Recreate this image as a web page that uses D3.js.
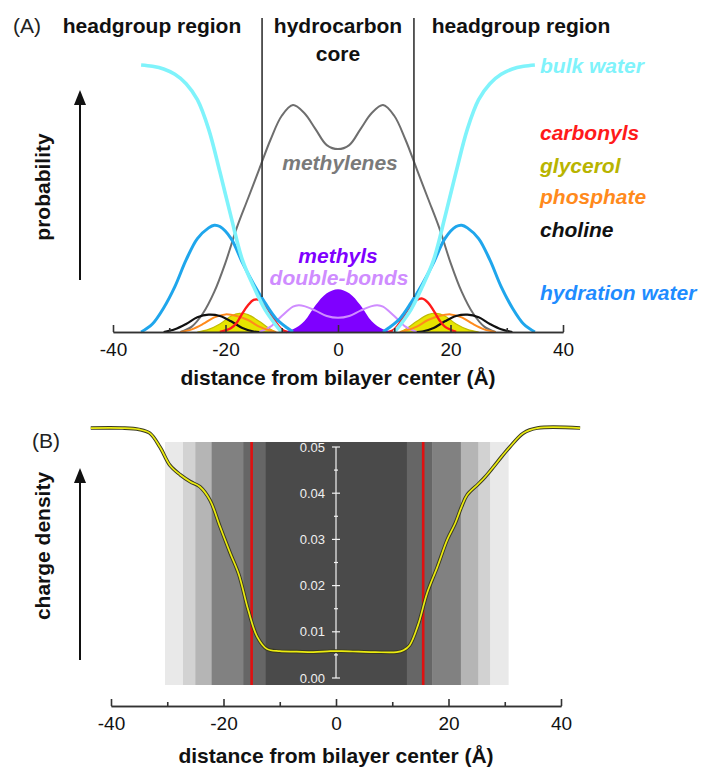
<!DOCTYPE html>
<html><head><meta charset="utf-8">
<script src="https://cdn.jsdelivr.net/npm/d3@7"></script>
<style>
body{margin:0;background:#fff}
svg{display:block;font-family:"Liberation Sans",Arial,Helvetica,sans-serif}
</style>
</head><body><svg id="c" width="707" height="767"></svg>
<script>
// ---------- DATA (panel A: probability, arbitrary units) ----------
const xMajorTicks = [-40, -20, 0, 20, 40];
const xMinorTicks = [-30, -10, 10, 30];
const regionBounds = [-13.5, 13.5];

const bulkWater = [[-35,1.00],[-33,0.995],[-31,0.985],[-29,0.965],[-27,0.93],[-25,0.87],[-23,0.76],[-21,0.60],[-19,0.43],[-17,0.27],[-15,0.17],[-13,0.085],[-11,0.025],[-10,0],
  null,[10,0],[11,0.025],[13,0.085],[15,0.17],[17,0.27],[19,0.43],[21,0.60],[23,0.76],[25,0.87],[27,0.93],[29,0.965],[31,0.985],[33,0.995],[35,1.00]];
const hydrationWater = [[-35,0],[-33,0.03],[-31,0.09],[-29,0.17],[-27,0.27],[-25,0.35],[-23,0.39],[-22,0.40],[-21,0.395],[-19,0.35],[-17,0.26],[-15,0.18],[-13,0.11],[-11,0.05],[-9,0.015],[-8,0],
  null,[8,0],[9,0.015],[11,0.05],[13,0.11],[15,0.18],[17,0.26],[19,0.35],[21,0.395],[22,0.40],[23,0.39],[25,0.35],[27,0.27],[29,0.17],[31,0.09],[33,0.03],[35,0]];
const methylenes = [[-28,0],[-26,0.02],[-24,0.07],[-22,0.15],[-20,0.26],[-18,0.39],[-16,0.50],[-14,0.61],[-12,0.72],[-10,0.81],[-8,0.85],[-6,0.82],[-4,0.76],[-2,0.70],[0,0.685],
  [2,0.70],[4,0.76],[6,0.82],[8,0.85],[10,0.81],[12,0.72],[14,0.61],[16,0.50],[18,0.39],[20,0.26],[22,0.15],[24,0.07],[26,0.02],[28,0]];
const carbonyls = [[-21,0],[-19,0.015],[-18,0.035],[-17,0.07],[-16,0.10],[-15,0.12],[-14,0.12],[-13,0.10],[-12,0.07],[-11,0.035],[-10,0.01],[-9,0],
  null,[9,0],[10,0.01],[11,0.035],[12,0.07],[13,0.10],[14,0.12],[15,0.125],[16,0.11],[17,0.08],[18,0.045],[19,0.02],[21,0]];
const glycerol = [[-25,0],[-23,0.01],[-21,0.03],[-19,0.06],[-17.5,0.07],[-16,0.065],[-14,0.04],[-12,0.01],[-11,0],
  null,[11,0],[12,0.01],[14,0.04],[16,0.065],[17.5,0.07],[19,0.06],[21,0.03],[23,0.01],[25,0]];
const phosphate = [[-28,0],[-26,0.01],[-24,0.03],[-22,0.055],[-20,0.066],[-18,0.06],[-16,0.045],[-14,0.02],[-12,0.005],[-11,0],
  null,[11,0],[12,0.005],[14,0.02],[16,0.045],[18,0.06],[20,0.066],[22,0.055],[24,0.03],[26,0.01],[28,0]];
const choline = [[-31,0],[-29,0.01],[-27,0.03],[-25,0.055],[-23,0.065],[-21,0.06],[-19,0.04],[-17,0.015],[-15,0.002],[-14,0],
  null,[14,0],[15,0.002],[17,0.015],[19,0.04],[21,0.06],[23,0.065],[25,0.055],[27,0.03],[29,0.01],[31,0]];
const methyls = [[-10,0],[-8,0.01],[-6,0.04],[-4,0.10],[-2,0.145],[0,0.16],[2,0.145],[4,0.10],[6,0.04],[8,0.01],[10,0]];
const doubleBonds = [[-14,0],[-12,0.02],[-10,0.06],[-8,0.095],[-7,0.10],[-6,0.097],[-4,0.08],[-2,0.06],[0,0.053],[2,0.06],[4,0.08],[6,0.097],[7,0.10],[8,0.095],[10,0.06],[12,0.02],[14,0]];

// ---------- DATA (panel B: charge density) ----------
const chargeDensity = [[-43.6,0.0541],[-38,0.0541],[-35,0.0538],[-33.1,0.053],[-31.3,0.050],[-29.5,0.046],[-27.7,0.044],[-25.9,0.0425],[-24.2,0.0414],[-22.4,0.0385],[-20.6,0.0327],[-18.8,0.027],[-17.3,0.0225],[-15.6,0.0147],[-14,0.0089],[-12.3,0.0063],[-10,0.0058],[-7,0.0057],[-4,0.0056],[-1,0.0058],
  [1,0.0058],[4,0.0057],[7,0.0056],[10.8,0.0056],[12,0.006],[13.1,0.0071],[14.6,0.0115],[16.2,0.0184],[18,0.024],[19.8,0.030],[21.2,0.0335],[22.3,0.037],[23.3,0.0396],[25.3,0.042],[26.5,0.0435],[28,0.0457],[29.5,0.048],[30.9,0.050],[33.3,0.053],[35.8,0.0541],[43.4,0.0541]];
const bandBounds = [-30.4,-27.2,-25.0,-22.1,-16.5,-12.5,12.6,17.1,22.2,25.3,27.4,30.6];
const redLines = [-15.0, 15.5];
const chargeMajorTicks = [0, 0.01, 0.02, 0.03, 0.04, 0.05];
const chargeMinorTicks = [0.005, 0.015, 0.025, 0.035, 0.045];

// ---------- STYLE ----------
const bandShades = ["#e9e9e9","#d2d2d2","#b5b5b5","#818181","#666666","#4a4a4a","#666666","#818181","#b5b5b5","#d2d2d2","#e9e9e9"];

const svg = d3.select("#c");
const BOLD = "bold";
const CURVE = d3.curveCatmullRom.alpha(0.5);

// ================= PANEL A =================
const xA = d3.scaleLinear([-40, 40], [113, 563]);
const yA = d3.scaleLinear([0, 1], [332, 65]);
const lineA = d3.line().defined(d => d !== null).x(d => xA(d[0])).y(d => yA(d[1])).curve(CURVE);
const areaA = d3.area().defined(d => d !== null).x(d => xA(d[0])).y0(yA(0)).y1(d => yA(d[1])).curve(CURVE);
const gA = svg.append("g");

// filled
gA.append("path").attr("d", areaA(glycerol)).attr("fill", "#e6e400").attr("stroke", "#c2bc00").attr("stroke-width", 1.2);
gA.append("path").attr("d", areaA(methyls)).attr("fill", "#7f00ff");
// lines
function drawLine(data, color, w) {
  gA.append("path").attr("d", lineA(data)).attr("fill", "none").attr("stroke", color).attr("stroke-width", w).attr("stroke-linejoin","round");
}
drawLine(methylenes, "#6e6e6e", 2);
drawLine(doubleBonds, "#cf8cff", 2);
drawLine(phosphate, "#ff8a1c", 2);
drawLine(choline, "#111111", 2.2);
drawLine(carbonyls, "#ff1a1a", 2.4);
drawLine(hydrationWater, "#1fa6ec", 3);
drawLine(bulkWater, "#7ff3fb", 3.6);

// region separator lines
gA.selectAll(".sep").data(regionBounds).join("line")
  .attr("x1", d => xA(d)).attr("x2", d => xA(d)).attr("y1", 18).attr("y2", 297)
  .attr("stroke", "#333").attr("stroke-width", 1.6);

// axis A
function bottomAxis(g, x, y0) {
  const ax = g.append("g").attr("transform", `translate(0,${y0})`);
  ax.call(d3.axisBottom(x).tickValues(xMajorTicks).tickSize(-7).tickSizeOuter(0).tickPadding(11).tickFormat(d => String(d)));
  ax.call(a => a.append("g").call(d3.axisBottom(x).tickValues(xMinorTicks).tickSize(-4).tickSizeOuter(0).tickFormat("")));
  ax.selectAll("path.domain").attr("stroke", "#333").attr("stroke-width", 1.6);
  ax.selectAll("line").attr("stroke", "#333").attr("stroke-width", 1.6);
  ax.selectAll("text").attr("font-size", 19).attr("fill", "#111").attr("font-family", "Liberation Sans, Arial, sans-serif");
  return ax;
}
bottomAxis(gA, xA, 332);
gA.append("text").attr("x", 338).attr("y", 385).attr("text-anchor", "middle").attr("font-size", 21).attr("font-weight", BOLD).attr("fill", "#111")
  .text("distance from bilayer center (Å)");

// headers
gA.append("text").attr("x", 13).attr("y", 33).attr("font-size", 21).attr("fill", "#222").text("(A)");
const hdr = [["headgroup region", 152, 33], ["hydrocarbon", 338, 33], ["core", 338, 61], ["headgroup region", 521, 33]];
gA.selectAll(".hdr").data(hdr).join("text").attr("x", d => d[1]).attr("y", d => d[2]).attr("text-anchor", "middle")
  .attr("font-size", 21).attr("font-weight", BOLD).attr("fill", "#111").text(d => d[0]);

// y label + arrow
gA.append("text").attr("transform", "translate(50,187) rotate(-90)").attr("text-anchor", "middle").attr("font-size", 21).attr("font-weight", BOLD).attr("fill", "#111").text("probability");
function arrow(g, x, yBottom, yTip) {
  g.append("line").attr("x1", x).attr("x2", x).attr("y1", yBottom).attr("y2", yTip + 12).attr("stroke", "#111").attr("stroke-width", 2);
  g.append("path").attr("d", `M${x},${yTip} L${x-6},${yTip+15} L${x+6},${yTip+15} Z`).attr("fill", "#111");
}
arrow(gA, 80, 280, 90);

// legend / labels
const labs = [["bulk water", 540, 73, "#7ff3fb"], ["carbonyls", 540, 140, "#ff1a1a"], ["glycerol", 540, 173, "#b8b400"],
  ["phosphate", 540, 204, "#ff8a1c"], ["choline", 540, 237, "#111111"], ["hydration water", 540, 300, "#1f8cff"]];
gA.selectAll(".lab").data(labs).join("text").attr("x", d => d[1]).attr("y", d => d[2]).attr("fill", d => d[3])
  .attr("font-size", 21).attr("font-weight", BOLD).attr("font-style", "italic").text(d => d[0]);
const cLabs = [["methylenes", 340, 170, "#7a7a7a"], ["methyls", 338, 263, "#7f00ff"], ["double-bonds", 339, 285, "#cf8cff"]];
gA.selectAll(".clab").data(cLabs).join("text").attr("x", d => d[1]).attr("y", d => d[2]).attr("fill", d => d[3]).attr("text-anchor", "middle")
  .attr("font-size", 21).attr("font-weight", BOLD).attr("font-style", "italic").text(d => d[0]);

// ================= PANEL B =================
const xB = d3.scaleLinear([-40, 40], [111, 561]);
const yB = d3.scaleLinear([0, 0.05], [678, 447]);
const gB = svg.append("g");
const bandTop = yB(0.05) - 5, bandBot = yB(0) + 7;
const bands = d3.range(bandBounds.length - 1).map(i => ({x0: bandBounds[i], x1: bandBounds[i + 1], c: bandShades[i]}));
gB.selectAll(".band").data(bands).join("rect")
  .attr("x", d => xB(d.x0)).attr("width", d => xB(d.x1) - xB(d.x0) + 0.5)
  .attr("y", bandTop).attr("height", bandBot - bandTop).attr("fill", d => d.c);
gB.selectAll(".red").data(redLines).join("line")
  .attr("x1", d => xB(d)).attr("x2", d => xB(d)).attr("y1", bandTop).attr("y2", bandBot)
  .attr("stroke", "#e01010").attr("stroke-width", 2.6);

// inner y axis
const ax0 = xB(0);
const yax = gB.append("g");
yax.append("line").attr("x1", ax0).attr("x2", ax0).attr("y1", yB(0.05)).attr("y2", yB(0)).attr("stroke", "#f2f2f2").attr("stroke-width", 1.2);
yax.selectAll(".mj").data(chargeMajorTicks).join("line").attr("x1", ax0 - 4).attr("x2", ax0 + 4).attr("y1", d => yB(d)).attr("y2", d => yB(d)).attr("stroke", "#f2f2f2").attr("stroke-width", 1.2);
yax.selectAll(".mn").data(chargeMinorTicks).join("line").attr("x1", ax0 - 2).attr("x2", ax0 + 2).attr("y1", d => yB(d)).attr("y2", d => yB(d)).attr("stroke", "#f2f2f2").attr("stroke-width", 1.2);
yax.selectAll(".tl").data(chargeMajorTicks).join("text").attr("x", ax0 - 11).attr("y", d => yB(d)).attr("dy", "0.35em").attr("text-anchor", "end")
  .attr("font-size", 13).attr("fill", "#f0f0f0").text(d => d3.format(".2f")(d));

// curve
const lineB = d3.line().x(d => xB(d[0])).y(d => yB(d[1])).curve(CURVE);
gB.append("path").attr("d", lineB(chargeDensity)).attr("fill", "none").attr("stroke", "#3a3a20").attr("stroke-width", 3.6);
gB.append("path").attr("d", lineB(chargeDensity)).attr("fill", "none").attr("stroke", "#ecec10").attr("stroke-width", 1.7);

bottomAxis(gB, xB, 706);
gB.append("text").attr("x", 336).attr("y", 763).attr("text-anchor", "middle").attr("font-size", 21).attr("font-weight", BOLD).attr("fill", "#111")
  .text("distance from bilayer center (Å)");
gB.append("text").attr("x", 32).attr("y", 448).attr("font-size", 21).attr("fill", "#222").text("(B)");
gB.append("text").attr("transform", "translate(50,546) rotate(-90)").attr("text-anchor", "middle").attr("font-size", 21).attr("font-weight", BOLD).attr("fill", "#111").text("charge density");
arrow(gB, 80, 660, 468);
</script></body></html>
